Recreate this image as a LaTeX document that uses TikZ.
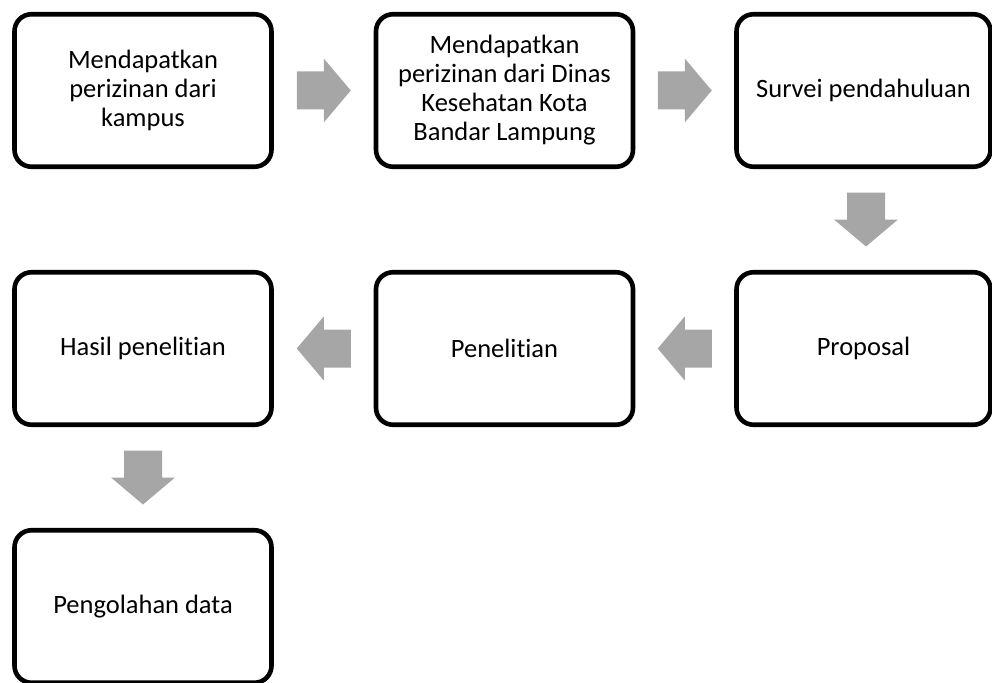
\documentclass[tikz,border=0pt]{standalone}
\usepackage{fontspec}
\setmainfont{Carlito}[Ligatures={NoCommon}]
\usetikzlibrary{calc}
\definecolor{arrowgray}{HTML}{A6A6A6}
\tikzset{
  stepbox/.style={draw=black, line width=4.6pt, rounded corners=17pt, fill=white,
    minimum width=257pt, minimum height=152.5pt, inner sep=0pt, align=center,
    font=\fontsize{26.5}{29}\selectfont},
  blockarrow/.pic={\fill[arrowgray] (-27,-19) -- (0,-19) -- (0,-32) -- (27,0) -- (0,32) -- (0,19) -- (-27,19) -- cycle;}
}
\begin{document}
\begin{tikzpicture}[x=1pt,y=-1pt]
\useasboundingbox (0,0) rectangle (992,682);
\begin{scope}
\clip (0,0) rectangle (992,682);
\node[stepbox] (b1) at (143,90.5) {Mendapatkan\\perizinan dari\\kampus};
\node[stepbox] (b2) at (504.5,90.5) {Mendapatkan\\perizinan dari Dinas\\Kesehatan Kota\\Bandar Lampung};
\node[stepbox, minimum width=254pt] (b3) at (863.5,90.5) {Survei pendahuluan};
\node[stepbox, minimum width=254pt] (b4) at (863.5,348.5) {Proposal};
\node[stepbox] (b5) at (504.5,348.5) {Penelitian};
\node[stepbox] (b6) at (143,348.5) {Hasil penelitian};
\node[stepbox] (b7) at (143,606.5) {Pengolahan data};
\pic at ($(b1.east)!0.5!(b2.west)$) {blockarrow};
\pic at ($(b2.east)!0.5!(b3.west)$) {blockarrow};
\pic[rotate=-90] at ($(b3.south)!0.5!(b4.north)+(2.5,0)$) {blockarrow};
\pic[rotate=180] at ($(b4.west)!0.5!(b5.east)$) {blockarrow};
\pic[rotate=180] at ($(b5.west)!0.5!(b6.east)$) {blockarrow};
\pic[rotate=-90] at ($(b6.south)!0.5!(b7.north)$) {blockarrow};
\end{scope}
\end{tikzpicture}
\end{document}
